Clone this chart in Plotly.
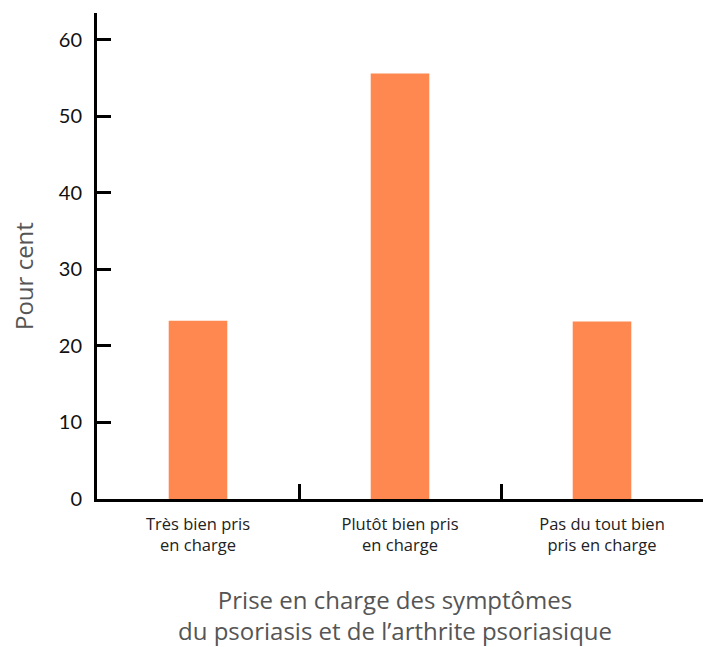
import plotly.graph_objects as go

# Categories and percentages
categories = ["Très bien pris<br>en charge", "Plutôt bien pris<br>en charge", "Pas du tout bien<br>pris en charge"]
percentages = [23.3, 55.6, 23.2]
y_ticks = [0, 10, 20, 30, 40, 50, 60]

x_title = "Prise en charge des symptômes<br>du psoriasis et de l’arthrite psoriasique"
y_title = "Pour cent"

TEXT_FONT = "'Open Sans', Lato, sans-serif"
NUM_FONT = "Lato, 'Open Sans', sans-serif"
BAR_COLOR = "#FE8850"

fig = go.Figure(
    go.Bar(
        x=categories,
        y=percentages,
        marker=dict(color=BAR_COLOR, line=dict(width=0)),
        hoverinfo="x+y",
    )
)

fig.update_layout(
    width=707,
    height=647,
    margin=dict(l=97, r=4, t=13, b=148),
    paper_bgcolor="white",
    plot_bgcolor="white",
    bargap=0.71,
    showlegend=False,
    font=dict(family=TEXT_FONT, color="#111"),
    xaxis=dict(
        type="category",
        range=[-0.5, 2.5],
        tickson="boundaries",
        ticks="inside",
        ticklen=15,
        tickwidth=3,
        tickcolor="black",
        showline=True,
        linewidth=3,
        linecolor="black",
        showgrid=False,
        zeroline=False,
        tickfont=dict(size=16.5, color="#222", family=TEXT_FONT),
        ticklabelstandoff=8,
    ),
    yaxis=dict(
        range=[0, 63.5],
        tickvals=y_ticks,
        ticks="inside",
        ticklen=14,
        tickwidth=3,
        tickcolor="black",
        showline=True,
        linewidth=3,
        linecolor="black",
        showgrid=False,
        zeroline=False,
        tickfont=dict(size=20, color="#111", family=NUM_FONT),
        ticklabelstandoff=8,
    ),
    annotations=[
        dict(
            text=x_title,
            xref="paper", yref="paper", x=0.5, y=0,
            xanchor="center", yanchor="middle",
            xshift=-5, yshift=-116,
            showarrow=False,
            font=dict(size=24, color="#555", family=TEXT_FONT),
        ),
        dict(
            text=y_title,
            xref="paper", yref="paper", x=0, y=0.5,
            xanchor="center", yanchor="middle", xshift=-74, yshift=-20,
            textangle=-90,
            showarrow=False,
            font=dict(size=24, color="#555", family=TEXT_FONT),
        ),
    ],
)

fig.write_html("out.html")
